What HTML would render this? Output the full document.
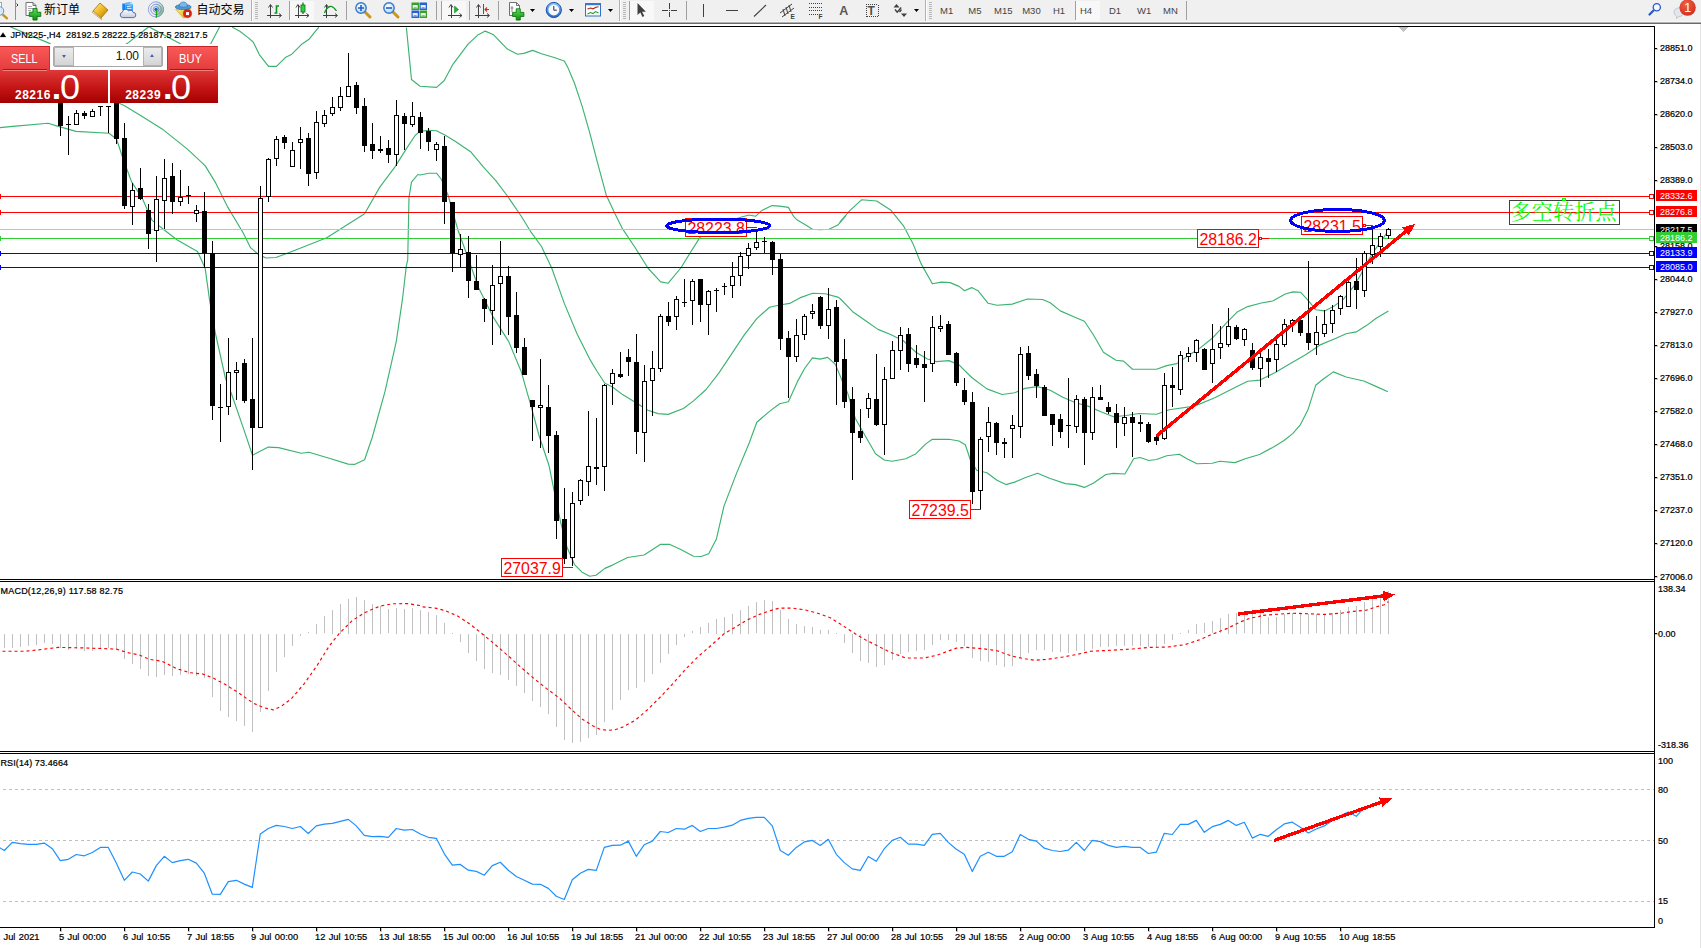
<!DOCTYPE html>
<html><head><meta charset="utf-8"><title>JPN225-,H4</title>
<style>
html,body{margin:0;padding:0;background:#fff;}
body{width:1701px;height:948px;overflow:hidden;position:relative;font-family:"Liberation Sans","Noto Sans CJK SC",sans-serif;}
#chart{position:absolute;left:0;top:0;}
#chart text{font-family:"Liberation Sans","Noto Sans CJK SC",sans-serif;}
#tb{position:absolute;left:0;top:0;width:1701px;height:22px;background:#f0f0f0;}
#tbline{position:absolute;left:0;top:21px;width:1701px;height:3px;background:linear-gradient(#f8f8f8 0,#f8f8f8 33.3%,#b0b0b0 33.4%,#b0b0b0 66.6%,#6c6c6c 66.7%);}
#redge{position:absolute;left:1700px;top:24px;width:1px;height:924px;background:#e3e3e3;}
</style></head><body>
<svg id="chart" width="1701" height="948" viewBox="0 0 1701 948">
<defs><clipPath id="cm"><rect x="0" y="27" width="1654" height="552"/></clipPath></defs>
<g shape-rendering="crispEdges" fill="#000">
<rect x="0" y="26" width="1655" height="1"/>
<rect x="1654" y="26" width="1" height="902"/>
<rect x="0" y="579" width="1655" height="1"/>
<rect x="0" y="581" width="1655" height="1"/>
<rect x="0" y="751" width="1655" height="1"/>
<rect x="0" y="753" width="1655" height="1"/>
<rect x="0" y="927" width="1655" height="1"/>
</g>
<g clip-path="url(#cm)">
<polyline points="10.1,26.7 50.0,43.6 70.3,59.2 100.1,59.2 127.1,43.6 148.7,26.7" fill="none" stroke-linejoin="round" stroke="#3cb371" stroke-width="1.15"/>
<polyline points="148.7,26.7 179.8,43.6 196.1,53.7 210.9,43.6 219.7,26.7" fill="none" stroke-linejoin="round" stroke="#3cb371" stroke-width="1.15"/>
<polyline points="232.1,27.1 239.8,31.3 247.8,37.4 253.2,42.0 259.3,54.6 268.5,66.4 276.5,66.4 285.3,57.6 291.8,54.2 302.1,43.9 309.0,39.3 315.1,31.6 318.9,27.1" fill="none" stroke-linejoin="round" stroke="#3cb371" stroke-width="1.15"/>
<polyline points="406.4,27.6 411.5,79.5 420.0,86.3 436.5,87.4 444.1,80.8 452.9,64.3 468.1,44.1 478.2,34.7 485.3,31.1 493.4,34.7 507.4,49.1 517.5,54.2 523.8,53.4 532.7,50.4 541.5,53.7 554.2,57.5 564.3,61.0 568.1,68.1 574.5,83.3 582.1,106.1 589.7,132.7 597.3,161.8 606.1,194.7 615.0,213.7 622.6,228.9 635.2,247.7 647.9,268.0 660.6,281.9 668.2,283.2 680.8,268.0 691.0,251.5 699.8,237.6 710.0,230.0 725.0,222.5 741.6,217.0 749.2,215.0 755.5,216.3 761.9,210.4 772.0,205.6 779.6,206.1 788.4,207.4 793.5,216.3 797.3,220.1 804.9,224.6 812.5,229.2 820.1,229.7 829.0,229.2 837.8,225.1 845.4,216.3 840.0,221.8 850.1,210.4 861.5,199.8 876.7,201.0 890.6,209.9 903.3,225.6 913.4,244.6 921.0,263.6 932.4,283.8 941.3,282.1 950.2,282.6 959.0,286.4 964.6,290.7 971.7,287.6 978.0,290.7 988.1,303.3 997.0,305.3 1012.2,304.1 1027.4,299.0 1042.6,299.5 1050.2,302.8 1060.3,310.9 1075.5,317.5 1084.4,321.3 1093.2,334.5 1103.4,352.2 1116.0,360.3 1123.6,361.1 1132.5,369.2 1156.5,369.2 1166.7,365.6 1176.8,363.6 1189.5,354.7 1199.6,348.4 1212.2,338.3 1227.4,321.8 1237.6,311.7 1247.7,306.6 1260.4,303.3 1260.0,303.3 1272.7,301.0 1285.3,294.0 1292.9,291.9 1300.5,292.2 1308.1,300.3 1315.7,309.7 1324.6,310.9 1333.4,306.6 1343.6,299.0 1353.7,286.4 1361.3,273.7 1366.4,263.6 1374.0,250.9 1381.5,240.8 1388.4,230.6" fill="none" stroke-linejoin="round" stroke="#3cb371" stroke-width="1.15"/>
<polyline points="76.0,83.3 124.1,105.6 141.8,116.2 162.1,128.9 187.4,149.1 205.1,165.6 215.2,182.1 227.9,207.4 243.1,232.7 250.7,247.9 258.3,254.2 265.9,258.0 276.0,257.5 291.2,251.7 326.7,237.8 364.6,213.7 379.8,187.1 395.0,166.9 407.7,146.6 415.3,135.2 420.0,131.4 428.9,130.2 436.5,130.7 445.3,135.2 455.5,141.5 470.6,151.7 483.3,166.9 496.0,180.8 507.4,196.0 521.3,216.3 531.4,232.7 541.5,246.5 551.7,268.0 564.3,303.4 577.0,333.8 589.7,359.1 597.3,371.8 604.9,383.2 612.5,387.0 622.6,394.6 635.2,402.2 647.9,410.3 658.0,413.6 668.2,414.4 683.4,408.5 693.5,400.9 706.1,389.5 718.8,373.1 731.5,354.1 744.1,335.1 756.8,318.6 769.5,307.2 779.6,305.0 789.7,303.4 799.8,297.9 812.5,293.3 825.2,293.8 837.8,297.1 840.0,298.5 852.7,311.7 865.3,320.5 878.0,329.4 890.6,334.5 903.3,340.8 916.0,352.2 927.4,359.0 936.2,361.6 948.9,360.6 959.0,364.9 971.7,377.5 986.9,388.9 1002.1,394.5 1014.7,392.7 1024.9,388.4 1037.5,386.6 1050.2,390.2 1062.8,397.3 1075.5,402.8 1088.2,406.1 1100.8,411.7 1113.5,416.8 1126.1,415.5 1138.8,413.5 1156.5,414.2 1169.2,409.7 1194.5,406.1 1214.8,397.8 1235.0,387.6 1247.7,381.3 1260.0,380.1 1275.2,372.5 1290.4,363.6 1305.6,354.7 1320.8,344.6 1336.0,338.3 1346.1,333.7 1356.2,331.9 1366.4,325.6 1376.5,318.0 1388.4,310.9" fill="none" stroke-linejoin="round" stroke="#3cb371" stroke-width="1.15"/>
<polyline points="0.0,127.6 12.7,126.4 48.1,123.3 58.2,126.4 76.0,131.4 108.9,133.2 116.5,139.0 124.1,161.8 131.7,182.1 141.8,197.3 151.9,220.1 164.6,230.2 177.3,240.0 197.5,251.4 205.1,267.9 209.7,300.8 215.2,332.4 225.4,378.0 231.7,394.5 243.1,427.4 252.5,455.2 268.4,447.1 278.6,447.6 301.3,453.2 308.9,452.2 329.2,458.3 348.2,464.1 354.5,464.4 364.6,459.8 372.2,437.5 384.9,391.9 396.3,341.3 402.6,298.2 406.4,265.3 407.7,260.1 409.0,197.3 411.5,182.1 417.8,174.5 420.0,175.0 428.9,173.2 436.5,173.2 441.5,179.5 447.9,194.7 452.9,212.5 458.0,230.2 468.1,257.9 478.2,287.0 493.4,317.4 508.6,341.4 521.3,371.8 531.4,407.3 539.0,435.5 549.1,465.8 554.2,491.2 560.5,521.5 566.9,546.9 574.5,564.6 582.1,572.2 589.7,576.2 596.0,575.2 604.9,568.4 612.5,565.1 627.6,557.5 644.1,555.0 660.6,544.3 669.4,544.3 680.8,549.4 693.5,556.2 701.1,556.5 708.7,553.7 716.3,539.3 723.9,506.4 736.5,473.4 749.2,443.0 756.8,422.3 769.5,411.4 779.6,403.8 788.4,401.8 797.3,381.9 804.9,368.0 812.5,357.9 820.1,359.1 827.7,357.4 835.3,364.2 841.6,379.4 847.6,392.9 855.2,418.2 865.3,436.0 875.5,453.7 884.3,460.0 891.9,461.3 905.8,458.8 916.0,453.7 926.1,443.6 932.4,439.3 948.9,439.3 959.0,441.0 965.3,444.8 970.4,460.0 976.7,470.2 986.9,472.7 997.0,480.3 1005.9,484.6 1014.7,482.1 1024.9,477.8 1037.5,473.2 1050.2,478.5 1065.4,483.6 1075.5,484.6 1084.4,487.4 1093.2,483.3 1105.9,474.5 1113.5,473.4 1124.9,474.0 1133.7,458.8 1140.1,457.5 1148.9,460.5 1156.5,459.5 1166.7,455.7 1179.3,454.2 1186.9,458.8 1197.1,463.8 1212.2,463.3 1219.8,461.3 1235.0,462.6 1245.2,458.8 1257.8,455.0 1260.0,454.2 1272.7,447.4 1284.1,440.5 1292.9,433.4 1300.5,424.6 1308.1,409.4 1315.7,385.3 1323.3,379.0 1333.4,371.9 1346.1,377.0 1363.8,381.0 1376.5,386.6 1387.9,391.7" fill="none" stroke-linejoin="round" stroke="#3cb371" stroke-width="1.15"/>
<g shape-rendering="crispEdges">
<rect x="0" y="196" width="1654" height="1" fill="#ff0000"/>
<rect x="0" y="194" width="1" height="5" fill="#ff0000"/>
<rect x="0" y="212" width="1654" height="1" fill="#ff0000"/>
<rect x="0" y="210" width="1" height="5" fill="#ff0000"/>
<rect x="0" y="229" width="1654" height="1" fill="#c0c0c0"/>
<rect x="0" y="238" width="1654" height="1" fill="#32cd32"/>
<rect x="0" y="236" width="1" height="5" fill="#32cd32"/>
<rect x="0" y="253" width="1654" height="1" fill="#0000ff"/>
<rect x="0" y="251" width="1" height="5" fill="#0000ff"/>
<rect x="0" y="267" width="1654" height="1" fill="#0000ff"/>
<rect x="0" y="265" width="1" height="5" fill="#0000ff"/>
<rect x="60" y="96" width="1" height="40" fill="#000"/>
<rect x="58" y="96" width="5" height="30" fill="#000"/>
<rect x="68" y="116" width="1" height="39" fill="#000"/>
<rect x="66" y="124" width="5" height="1" fill="#000"/>
<rect x="76" y="110" width="1" height="15" fill="#000"/>
<rect x="74" y="113" width="5" height="12" fill="#000"/>
<rect x="75" y="114" width="3" height="10" fill="#fff"/>
<rect x="84" y="111" width="1" height="8" fill="#000"/>
<rect x="82" y="113" width="5" height="3" fill="#000"/>
<rect x="92" y="109" width="1" height="8" fill="#000"/>
<rect x="90" y="111" width="5" height="6" fill="#000"/>
<rect x="91" y="112" width="3" height="4" fill="#fff"/>
<rect x="100" y="106" width="1" height="10" fill="#000"/>
<rect x="98" y="106" width="5" height="1" fill="#000"/>
<rect x="108" y="106" width="1" height="27" fill="#000"/>
<rect x="106" y="106" width="5" height="1" fill="#000"/>
<rect x="116" y="96" width="1" height="48" fill="#000"/>
<rect x="114" y="96" width="5" height="43" fill="#000"/>
<rect x="124" y="123" width="1" height="86" fill="#000"/>
<rect x="122" y="138" width="5" height="68" fill="#000"/>
<rect x="132" y="183" width="1" height="42" fill="#000"/>
<rect x="130" y="190" width="5" height="17" fill="#000"/>
<rect x="131" y="191" width="3" height="15" fill="#fff"/>
<rect x="140" y="168" width="1" height="32" fill="#000"/>
<rect x="138" y="188" width="5" height="11" fill="#000"/>
<rect x="148" y="204" width="1" height="45" fill="#000"/>
<rect x="146" y="210" width="5" height="24" fill="#000"/>
<rect x="156" y="176" width="1" height="86" fill="#000"/>
<rect x="154" y="199" width="5" height="32" fill="#000"/>
<rect x="155" y="200" width="3" height="30" fill="#fff"/>
<rect x="164" y="159" width="1" height="70" fill="#000"/>
<rect x="162" y="178" width="5" height="23" fill="#000"/>
<rect x="163" y="179" width="3" height="21" fill="#fff"/>
<rect x="172" y="163" width="1" height="51" fill="#000"/>
<rect x="170" y="176" width="5" height="26" fill="#000"/>
<rect x="180" y="170" width="1" height="36" fill="#000"/>
<rect x="178" y="197" width="5" height="5" fill="#000"/>
<rect x="179" y="198" width="3" height="3" fill="#fff"/>
<rect x="188" y="186" width="1" height="18" fill="#000"/>
<rect x="186" y="195" width="5" height="1" fill="#000"/>
<rect x="196" y="205" width="1" height="17" fill="#000"/>
<rect x="194" y="210" width="5" height="4" fill="#000"/>
<rect x="195" y="211" width="3" height="2" fill="#fff"/>
<rect x="204" y="192" width="1" height="76" fill="#000"/>
<rect x="202" y="211" width="5" height="42" fill="#000"/>
<rect x="212" y="241" width="1" height="179" fill="#000"/>
<rect x="210" y="253" width="5" height="153" fill="#000"/>
<rect x="220" y="384" width="1" height="58" fill="#000"/>
<rect x="218" y="407" width="5" height="1" fill="#000"/>
<rect x="228" y="338" width="1" height="77" fill="#000"/>
<rect x="226" y="372" width="5" height="35" fill="#000"/>
<rect x="227" y="373" width="3" height="33" fill="#fff"/>
<rect x="236" y="362" width="1" height="38" fill="#000"/>
<rect x="234" y="370" width="5" height="3" fill="#000"/>
<rect x="235" y="371" width="3" height="1" fill="#fff"/>
<rect x="244" y="359" width="1" height="44" fill="#000"/>
<rect x="242" y="363" width="5" height="38" fill="#000"/>
<rect x="252" y="338" width="1" height="132" fill="#000"/>
<rect x="250" y="399" width="5" height="29" fill="#000"/>
<rect x="260" y="186" width="1" height="242" fill="#000"/>
<rect x="258" y="198" width="5" height="230" fill="#000"/>
<rect x="259" y="199" width="3" height="228" fill="#fff"/>
<rect x="268" y="158" width="1" height="44" fill="#000"/>
<rect x="266" y="159" width="5" height="38" fill="#000"/>
<rect x="267" y="160" width="3" height="36" fill="#fff"/>
<rect x="276" y="136" width="1" height="30" fill="#000"/>
<rect x="274" y="139" width="5" height="20" fill="#000"/>
<rect x="275" y="140" width="3" height="18" fill="#fff"/>
<rect x="284" y="135" width="1" height="14" fill="#000"/>
<rect x="282" y="137" width="5" height="6" fill="#000"/>
<rect x="292" y="142" width="1" height="25" fill="#000"/>
<rect x="290" y="150" width="5" height="17" fill="#000"/>
<rect x="291" y="151" width="3" height="15" fill="#fff"/>
<rect x="300" y="127" width="1" height="42" fill="#000"/>
<rect x="298" y="139" width="5" height="4" fill="#000"/>
<rect x="299" y="140" width="3" height="2" fill="#fff"/>
<rect x="308" y="133" width="1" height="53" fill="#000"/>
<rect x="306" y="138" width="5" height="36" fill="#000"/>
<rect x="316" y="111" width="1" height="68" fill="#000"/>
<rect x="314" y="122" width="5" height="51" fill="#000"/>
<rect x="315" y="123" width="3" height="49" fill="#fff"/>
<rect x="324" y="110" width="1" height="17" fill="#000"/>
<rect x="322" y="115" width="5" height="9" fill="#000"/>
<rect x="323" y="116" width="3" height="7" fill="#fff"/>
<rect x="332" y="97" width="1" height="19" fill="#000"/>
<rect x="330" y="107" width="5" height="7" fill="#000"/>
<rect x="331" y="108" width="3" height="5" fill="#fff"/>
<rect x="340" y="87" width="1" height="24" fill="#000"/>
<rect x="338" y="96" width="5" height="12" fill="#000"/>
<rect x="339" y="97" width="3" height="10" fill="#fff"/>
<rect x="348" y="53" width="1" height="44" fill="#000"/>
<rect x="346" y="86" width="5" height="11" fill="#000"/>
<rect x="347" y="87" width="3" height="9" fill="#fff"/>
<rect x="356" y="82" width="1" height="32" fill="#000"/>
<rect x="354" y="85" width="5" height="23" fill="#000"/>
<rect x="364" y="98" width="1" height="54" fill="#000"/>
<rect x="362" y="106" width="5" height="40" fill="#000"/>
<rect x="372" y="123" width="1" height="36" fill="#000"/>
<rect x="370" y="144" width="5" height="7" fill="#000"/>
<rect x="380" y="136" width="1" height="17" fill="#000"/>
<rect x="378" y="149" width="5" height="2" fill="#000"/>
<rect x="388" y="140" width="1" height="23" fill="#000"/>
<rect x="386" y="148" width="5" height="7" fill="#000"/>
<rect x="396" y="100" width="1" height="66" fill="#000"/>
<rect x="394" y="115" width="5" height="40" fill="#000"/>
<rect x="395" y="116" width="3" height="38" fill="#fff"/>
<rect x="404" y="113" width="1" height="37" fill="#000"/>
<rect x="402" y="116" width="5" height="8" fill="#000"/>
<rect x="412" y="102" width="1" height="25" fill="#000"/>
<rect x="410" y="116" width="5" height="9" fill="#000"/>
<rect x="411" y="117" width="3" height="7" fill="#fff"/>
<rect x="420" y="112" width="1" height="37" fill="#000"/>
<rect x="418" y="117" width="5" height="16" fill="#000"/>
<rect x="428" y="128" width="1" height="23" fill="#000"/>
<rect x="426" y="131" width="5" height="11" fill="#000"/>
<rect x="436" y="142" width="1" height="19" fill="#000"/>
<rect x="434" y="144" width="5" height="6" fill="#000"/>
<rect x="435" y="145" width="3" height="4" fill="#fff"/>
<rect x="444" y="136" width="1" height="88" fill="#000"/>
<rect x="442" y="146" width="5" height="56" fill="#000"/>
<rect x="452" y="202" width="1" height="70" fill="#000"/>
<rect x="450" y="202" width="5" height="51" fill="#000"/>
<rect x="460" y="234" width="1" height="33" fill="#000"/>
<rect x="458" y="249" width="5" height="6" fill="#000"/>
<rect x="459" y="250" width="3" height="4" fill="#fff"/>
<rect x="468" y="236" width="1" height="62" fill="#000"/>
<rect x="466" y="252" width="5" height="29" fill="#000"/>
<rect x="476" y="255" width="1" height="35" fill="#000"/>
<rect x="474" y="281" width="5" height="9" fill="#000"/>
<rect x="484" y="298" width="1" height="24" fill="#000"/>
<rect x="482" y="299" width="5" height="10" fill="#000"/>
<rect x="492" y="265" width="1" height="80" fill="#000"/>
<rect x="490" y="285" width="5" height="26" fill="#000"/>
<rect x="491" y="286" width="3" height="24" fill="#fff"/>
<rect x="500" y="241" width="1" height="94" fill="#000"/>
<rect x="498" y="276" width="5" height="8" fill="#000"/>
<rect x="499" y="277" width="3" height="6" fill="#fff"/>
<rect x="508" y="266" width="1" height="69" fill="#000"/>
<rect x="506" y="276" width="5" height="41" fill="#000"/>
<rect x="516" y="292" width="1" height="61" fill="#000"/>
<rect x="514" y="315" width="5" height="33" fill="#000"/>
<rect x="524" y="338" width="1" height="37" fill="#000"/>
<rect x="522" y="347" width="5" height="28" fill="#000"/>
<rect x="532" y="400" width="1" height="41" fill="#000"/>
<rect x="530" y="400" width="5" height="7" fill="#000"/>
<rect x="540" y="359" width="1" height="89" fill="#000"/>
<rect x="538" y="405" width="5" height="3" fill="#000"/>
<rect x="539" y="406" width="3" height="1" fill="#fff"/>
<rect x="548" y="385" width="1" height="68" fill="#000"/>
<rect x="546" y="407" width="5" height="29" fill="#000"/>
<rect x="556" y="431" width="1" height="108" fill="#000"/>
<rect x="554" y="435" width="5" height="86" fill="#000"/>
<rect x="564" y="488" width="1" height="76" fill="#000"/>
<rect x="562" y="519" width="5" height="40" fill="#000"/>
<rect x="572" y="492" width="1" height="74" fill="#000"/>
<rect x="570" y="503" width="5" height="55" fill="#000"/>
<rect x="571" y="504" width="3" height="53" fill="#fff"/>
<rect x="580" y="479" width="1" height="26" fill="#000"/>
<rect x="578" y="480" width="5" height="21" fill="#000"/>
<rect x="579" y="481" width="3" height="19" fill="#fff"/>
<rect x="588" y="411" width="1" height="85" fill="#000"/>
<rect x="586" y="466" width="5" height="16" fill="#000"/>
<rect x="587" y="467" width="3" height="14" fill="#fff"/>
<rect x="596" y="418" width="1" height="67" fill="#000"/>
<rect x="594" y="467" width="5" height="2" fill="#000"/>
<rect x="604" y="384" width="1" height="107" fill="#000"/>
<rect x="602" y="385" width="5" height="82" fill="#000"/>
<rect x="603" y="386" width="3" height="80" fill="#fff"/>
<rect x="612" y="369" width="1" height="36" fill="#000"/>
<rect x="610" y="373" width="5" height="11" fill="#000"/>
<rect x="611" y="374" width="3" height="9" fill="#fff"/>
<rect x="620" y="352" width="1" height="26" fill="#000"/>
<rect x="618" y="374" width="5" height="3" fill="#000"/>
<rect x="628" y="349" width="1" height="27" fill="#000"/>
<rect x="626" y="357" width="5" height="5" fill="#000"/>
<rect x="636" y="334" width="1" height="120" fill="#000"/>
<rect x="634" y="362" width="5" height="70" fill="#000"/>
<rect x="644" y="365" width="1" height="97" fill="#000"/>
<rect x="642" y="381" width="5" height="52" fill="#000"/>
<rect x="643" y="382" width="3" height="50" fill="#fff"/>
<rect x="652" y="351" width="1" height="65" fill="#000"/>
<rect x="650" y="368" width="5" height="13" fill="#000"/>
<rect x="651" y="369" width="3" height="11" fill="#fff"/>
<rect x="660" y="314" width="1" height="58" fill="#000"/>
<rect x="658" y="316" width="5" height="53" fill="#000"/>
<rect x="659" y="317" width="3" height="51" fill="#fff"/>
<rect x="668" y="302" width="1" height="24" fill="#000"/>
<rect x="666" y="316" width="5" height="6" fill="#000"/>
<rect x="676" y="296" width="1" height="34" fill="#000"/>
<rect x="674" y="299" width="5" height="18" fill="#000"/>
<rect x="675" y="300" width="3" height="16" fill="#fff"/>
<rect x="684" y="279" width="1" height="28" fill="#000"/>
<rect x="682" y="302" width="5" height="1" fill="#000"/>
<rect x="692" y="279" width="1" height="46" fill="#000"/>
<rect x="690" y="281" width="5" height="20" fill="#000"/>
<rect x="691" y="282" width="3" height="18" fill="#fff"/>
<rect x="700" y="279" width="1" height="43" fill="#000"/>
<rect x="698" y="279" width="5" height="26" fill="#000"/>
<rect x="708" y="290" width="1" height="45" fill="#000"/>
<rect x="706" y="291" width="5" height="14" fill="#000"/>
<rect x="707" y="292" width="3" height="12" fill="#fff"/>
<rect x="716" y="288" width="1" height="24" fill="#000"/>
<rect x="714" y="290" width="5" height="1" fill="#000"/>
<rect x="724" y="283" width="1" height="12" fill="#000"/>
<rect x="722" y="286" width="5" height="1" fill="#000"/>
<rect x="732" y="262" width="1" height="36" fill="#000"/>
<rect x="730" y="276" width="5" height="10" fill="#000"/>
<rect x="731" y="277" width="3" height="8" fill="#fff"/>
<rect x="740" y="252" width="1" height="34" fill="#000"/>
<rect x="738" y="256" width="5" height="20" fill="#000"/>
<rect x="739" y="257" width="3" height="18" fill="#fff"/>
<rect x="748" y="243" width="1" height="26" fill="#000"/>
<rect x="746" y="248" width="5" height="8" fill="#000"/>
<rect x="747" y="249" width="3" height="6" fill="#fff"/>
<rect x="756" y="231" width="1" height="19" fill="#000"/>
<rect x="754" y="242" width="5" height="6" fill="#000"/>
<rect x="755" y="243" width="3" height="4" fill="#fff"/>
<rect x="764" y="237" width="1" height="16" fill="#000"/>
<rect x="762" y="241" width="5" height="1" fill="#000"/>
<rect x="772" y="241" width="1" height="34" fill="#000"/>
<rect x="770" y="242" width="5" height="18" fill="#000"/>
<rect x="780" y="254" width="1" height="96" fill="#000"/>
<rect x="778" y="259" width="5" height="80" fill="#000"/>
<rect x="788" y="331" width="1" height="67" fill="#000"/>
<rect x="786" y="338" width="5" height="19" fill="#000"/>
<rect x="796" y="319" width="1" height="43" fill="#000"/>
<rect x="794" y="335" width="5" height="22" fill="#000"/>
<rect x="795" y="336" width="3" height="20" fill="#fff"/>
<rect x="804" y="314" width="1" height="26" fill="#000"/>
<rect x="802" y="316" width="5" height="19" fill="#000"/>
<rect x="803" y="317" width="3" height="17" fill="#fff"/>
<rect x="812" y="304" width="1" height="15" fill="#000"/>
<rect x="810" y="311" width="5" height="3" fill="#000"/>
<rect x="811" y="312" width="3" height="1" fill="#fff"/>
<rect x="820" y="296" width="1" height="33" fill="#000"/>
<rect x="818" y="297" width="5" height="29" fill="#000"/>
<rect x="828" y="288" width="1" height="51" fill="#000"/>
<rect x="826" y="309" width="5" height="17" fill="#000"/>
<rect x="827" y="310" width="3" height="15" fill="#fff"/>
<rect x="836" y="300" width="1" height="105" fill="#000"/>
<rect x="834" y="307" width="5" height="55" fill="#000"/>
<rect x="844" y="339" width="1" height="69" fill="#000"/>
<rect x="842" y="359" width="5" height="43" fill="#000"/>
<rect x="852" y="387" width="1" height="93" fill="#000"/>
<rect x="850" y="399" width="5" height="34" fill="#000"/>
<rect x="860" y="409" width="1" height="34" fill="#000"/>
<rect x="858" y="431" width="5" height="7" fill="#000"/>
<rect x="868" y="393" width="1" height="25" fill="#000"/>
<rect x="866" y="398" width="5" height="11" fill="#000"/>
<rect x="867" y="399" width="3" height="9" fill="#fff"/>
<rect x="876" y="354" width="1" height="72" fill="#000"/>
<rect x="874" y="399" width="5" height="26" fill="#000"/>
<rect x="884" y="367" width="1" height="88" fill="#000"/>
<rect x="882" y="379" width="5" height="46" fill="#000"/>
<rect x="883" y="380" width="3" height="44" fill="#fff"/>
<rect x="892" y="341" width="1" height="38" fill="#000"/>
<rect x="890" y="350" width="5" height="29" fill="#000"/>
<rect x="891" y="351" width="3" height="27" fill="#fff"/>
<rect x="900" y="327" width="1" height="43" fill="#000"/>
<rect x="898" y="335" width="5" height="16" fill="#000"/>
<rect x="899" y="336" width="3" height="14" fill="#fff"/>
<rect x="908" y="328" width="1" height="44" fill="#000"/>
<rect x="906" y="334" width="5" height="30" fill="#000"/>
<rect x="916" y="345" width="1" height="23" fill="#000"/>
<rect x="914" y="358" width="5" height="7" fill="#000"/>
<rect x="924" y="351" width="1" height="51" fill="#000"/>
<rect x="922" y="364" width="5" height="4" fill="#000"/>
<rect x="932" y="316" width="1" height="56" fill="#000"/>
<rect x="930" y="327" width="5" height="37" fill="#000"/>
<rect x="931" y="328" width="3" height="35" fill="#fff"/>
<rect x="940" y="315" width="1" height="17" fill="#000"/>
<rect x="938" y="326" width="5" height="3" fill="#000"/>
<rect x="939" y="327" width="3" height="1" fill="#fff"/>
<rect x="948" y="321" width="1" height="34" fill="#000"/>
<rect x="946" y="324" width="5" height="31" fill="#000"/>
<rect x="956" y="352" width="1" height="34" fill="#000"/>
<rect x="954" y="353" width="5" height="30" fill="#000"/>
<rect x="964" y="378" width="1" height="27" fill="#000"/>
<rect x="962" y="390" width="5" height="12" fill="#000"/>
<rect x="972" y="392" width="1" height="112" fill="#000"/>
<rect x="970" y="402" width="5" height="90" fill="#000"/>
<rect x="980" y="437" width="1" height="72" fill="#000"/>
<rect x="978" y="439" width="5" height="52" fill="#000"/>
<rect x="979" y="440" width="3" height="50" fill="#fff"/>
<rect x="988" y="407" width="1" height="45" fill="#000"/>
<rect x="986" y="422" width="5" height="15" fill="#000"/>
<rect x="987" y="423" width="3" height="13" fill="#fff"/>
<rect x="996" y="422" width="1" height="33" fill="#000"/>
<rect x="994" y="423" width="5" height="20" fill="#000"/>
<rect x="1004" y="438" width="1" height="20" fill="#000"/>
<rect x="1002" y="442" width="5" height="2" fill="#000"/>
<rect x="1012" y="415" width="1" height="43" fill="#000"/>
<rect x="1010" y="425" width="5" height="4" fill="#000"/>
<rect x="1011" y="426" width="3" height="2" fill="#fff"/>
<rect x="1020" y="347" width="1" height="91" fill="#000"/>
<rect x="1018" y="354" width="5" height="73" fill="#000"/>
<rect x="1019" y="355" width="3" height="71" fill="#fff"/>
<rect x="1028" y="346" width="1" height="34" fill="#000"/>
<rect x="1026" y="353" width="5" height="23" fill="#000"/>
<rect x="1036" y="369" width="1" height="29" fill="#000"/>
<rect x="1034" y="374" width="5" height="12" fill="#000"/>
<rect x="1044" y="385" width="1" height="31" fill="#000"/>
<rect x="1042" y="387" width="5" height="29" fill="#000"/>
<rect x="1052" y="414" width="1" height="32" fill="#000"/>
<rect x="1050" y="414" width="5" height="11" fill="#000"/>
<rect x="1060" y="414" width="1" height="24" fill="#000"/>
<rect x="1058" y="419" width="5" height="13" fill="#000"/>
<rect x="1068" y="378" width="1" height="70" fill="#000"/>
<rect x="1066" y="425" width="5" height="1" fill="#000"/>
<rect x="1076" y="395" width="1" height="38" fill="#000"/>
<rect x="1074" y="399" width="5" height="28" fill="#000"/>
<rect x="1075" y="400" width="3" height="26" fill="#fff"/>
<rect x="1084" y="397" width="1" height="68" fill="#000"/>
<rect x="1082" y="399" width="5" height="34" fill="#000"/>
<rect x="1092" y="387" width="1" height="53" fill="#000"/>
<rect x="1090" y="397" width="5" height="36" fill="#000"/>
<rect x="1091" y="398" width="3" height="34" fill="#fff"/>
<rect x="1100" y="385" width="1" height="15" fill="#000"/>
<rect x="1098" y="397" width="5" height="3" fill="#000"/>
<rect x="1108" y="402" width="1" height="12" fill="#000"/>
<rect x="1106" y="407" width="5" height="5" fill="#000"/>
<rect x="1116" y="404" width="1" height="44" fill="#000"/>
<rect x="1114" y="413" width="5" height="10" fill="#000"/>
<rect x="1124" y="407" width="1" height="29" fill="#000"/>
<rect x="1122" y="417" width="5" height="7" fill="#000"/>
<rect x="1123" y="418" width="3" height="5" fill="#fff"/>
<rect x="1132" y="412" width="1" height="45" fill="#000"/>
<rect x="1130" y="417" width="5" height="6" fill="#000"/>
<rect x="1140" y="415" width="1" height="17" fill="#000"/>
<rect x="1138" y="422" width="5" height="2" fill="#000"/>
<rect x="1148" y="422" width="1" height="21" fill="#000"/>
<rect x="1146" y="424" width="5" height="18" fill="#000"/>
<rect x="1156" y="435" width="1" height="10" fill="#000"/>
<rect x="1154" y="437" width="5" height="4" fill="#000"/>
<rect x="1164" y="373" width="1" height="67" fill="#000"/>
<rect x="1162" y="385" width="5" height="54" fill="#000"/>
<rect x="1163" y="386" width="3" height="52" fill="#fff"/>
<rect x="1172" y="367" width="1" height="40" fill="#000"/>
<rect x="1170" y="385" width="5" height="3" fill="#000"/>
<rect x="1180" y="351" width="1" height="44" fill="#000"/>
<rect x="1178" y="355" width="5" height="35" fill="#000"/>
<rect x="1179" y="356" width="3" height="33" fill="#fff"/>
<rect x="1188" y="347" width="1" height="15" fill="#000"/>
<rect x="1186" y="353" width="5" height="4" fill="#000"/>
<rect x="1187" y="354" width="3" height="2" fill="#fff"/>
<rect x="1196" y="339" width="1" height="23" fill="#000"/>
<rect x="1194" y="340" width="5" height="13" fill="#000"/>
<rect x="1195" y="341" width="3" height="11" fill="#fff"/>
<rect x="1204" y="348" width="1" height="22" fill="#000"/>
<rect x="1202" y="349" width="5" height="21" fill="#000"/>
<rect x="1212" y="324" width="1" height="59" fill="#000"/>
<rect x="1210" y="349" width="5" height="15" fill="#000"/>
<rect x="1211" y="350" width="3" height="13" fill="#fff"/>
<rect x="1220" y="326" width="1" height="33" fill="#000"/>
<rect x="1218" y="343" width="5" height="5" fill="#000"/>
<rect x="1219" y="344" width="3" height="3" fill="#fff"/>
<rect x="1228" y="308" width="1" height="39" fill="#000"/>
<rect x="1226" y="326" width="5" height="19" fill="#000"/>
<rect x="1227" y="327" width="3" height="17" fill="#fff"/>
<rect x="1236" y="325" width="1" height="15" fill="#000"/>
<rect x="1234" y="327" width="5" height="12" fill="#000"/>
<rect x="1244" y="328" width="1" height="18" fill="#000"/>
<rect x="1242" y="329" width="5" height="11" fill="#000"/>
<rect x="1243" y="330" width="3" height="9" fill="#fff"/>
<rect x="1252" y="343" width="1" height="27" fill="#000"/>
<rect x="1250" y="350" width="5" height="18" fill="#000"/>
<rect x="1260" y="353" width="1" height="34" fill="#000"/>
<rect x="1258" y="357" width="5" height="12" fill="#000"/>
<rect x="1259" y="358" width="3" height="10" fill="#fff"/>
<rect x="1268" y="349" width="1" height="29" fill="#000"/>
<rect x="1266" y="358" width="5" height="4" fill="#000"/>
<rect x="1276" y="340" width="1" height="32" fill="#000"/>
<rect x="1274" y="344" width="5" height="16" fill="#000"/>
<rect x="1275" y="345" width="3" height="14" fill="#fff"/>
<rect x="1284" y="319" width="1" height="28" fill="#000"/>
<rect x="1282" y="324" width="5" height="21" fill="#000"/>
<rect x="1283" y="325" width="3" height="19" fill="#fff"/>
<rect x="1292" y="319" width="1" height="13" fill="#000"/>
<rect x="1290" y="320" width="5" height="4" fill="#000"/>
<rect x="1291" y="321" width="3" height="2" fill="#fff"/>
<rect x="1300" y="319" width="1" height="17" fill="#000"/>
<rect x="1298" y="320" width="5" height="13" fill="#000"/>
<rect x="1308" y="261" width="1" height="89" fill="#000"/>
<rect x="1306" y="333" width="5" height="10" fill="#000"/>
<rect x="1316" y="316" width="1" height="39" fill="#000"/>
<rect x="1314" y="332" width="5" height="13" fill="#000"/>
<rect x="1315" y="333" width="3" height="11" fill="#fff"/>
<rect x="1324" y="310" width="1" height="27" fill="#000"/>
<rect x="1322" y="324" width="5" height="10" fill="#000"/>
<rect x="1323" y="325" width="3" height="8" fill="#fff"/>
<rect x="1332" y="305" width="1" height="28" fill="#000"/>
<rect x="1330" y="310" width="5" height="14" fill="#000"/>
<rect x="1331" y="311" width="3" height="12" fill="#fff"/>
<rect x="1340" y="295" width="1" height="20" fill="#000"/>
<rect x="1338" y="296" width="5" height="13" fill="#000"/>
<rect x="1339" y="297" width="3" height="11" fill="#fff"/>
<rect x="1348" y="280" width="1" height="27" fill="#000"/>
<rect x="1346" y="282" width="5" height="25" fill="#000"/>
<rect x="1347" y="283" width="3" height="23" fill="#fff"/>
<rect x="1356" y="258" width="1" height="51" fill="#000"/>
<rect x="1354" y="281" width="5" height="9" fill="#000"/>
<rect x="1364" y="251" width="1" height="46" fill="#000"/>
<rect x="1362" y="253" width="5" height="38" fill="#000"/>
<rect x="1363" y="254" width="3" height="36" fill="#fff"/>
<rect x="1372" y="229" width="1" height="35" fill="#000"/>
<rect x="1370" y="245" width="5" height="10" fill="#000"/>
<rect x="1371" y="246" width="3" height="8" fill="#fff"/>
<rect x="1380" y="233" width="1" height="24" fill="#000"/>
<rect x="1378" y="236" width="5" height="11" fill="#000"/>
<rect x="1379" y="237" width="3" height="9" fill="#fff"/>
<rect x="1388" y="228" width="1" height="11" fill="#000"/>
<rect x="1386" y="229" width="5" height="7" fill="#000"/>
<rect x="1387" y="230" width="3" height="5" fill="#fff"/>
</g>
</g>
<g shape-rendering="crispEdges" fill="#c0c0c0">
<rect x="4" y="634" width="1" height="14"/>
<rect x="12" y="634" width="1" height="14"/>
<rect x="20" y="634" width="1" height="13"/>
<rect x="28" y="634" width="1" height="12"/>
<rect x="36" y="634" width="1" height="11"/>
<rect x="44" y="634" width="1" height="9"/>
<rect x="52" y="634" width="1" height="10"/>
<rect x="60" y="634" width="1" height="14"/>
<rect x="68" y="634" width="1" height="16"/>
<rect x="76" y="634" width="1" height="15"/>
<rect x="84" y="634" width="1" height="17"/>
<rect x="92" y="634" width="1" height="17"/>
<rect x="100" y="634" width="1" height="15"/>
<rect x="108" y="634" width="1" height="14"/>
<rect x="116" y="634" width="1" height="16"/>
<rect x="124" y="634" width="1" height="25"/>
<rect x="132" y="634" width="1" height="30"/>
<rect x="140" y="634" width="1" height="35"/>
<rect x="148" y="634" width="1" height="42"/>
<rect x="156" y="634" width="1" height="43"/>
<rect x="164" y="634" width="1" height="41"/>
<rect x="172" y="634" width="1" height="42"/>
<rect x="180" y="634" width="1" height="41"/>
<rect x="188" y="634" width="1" height="40"/>
<rect x="196" y="634" width="1" height="42"/>
<rect x="204" y="634" width="1" height="44"/>
<rect x="212" y="634" width="1" height="63"/>
<rect x="220" y="634" width="1" height="77"/>
<rect x="228" y="634" width="1" height="83"/>
<rect x="236" y="634" width="1" height="87"/>
<rect x="244" y="634" width="1" height="92"/>
<rect x="252" y="634" width="1" height="98"/>
<rect x="260" y="634" width="1" height="78"/>
<rect x="268" y="634" width="1" height="57"/>
<rect x="276" y="634" width="1" height="38"/>
<rect x="284" y="634" width="1" height="23"/>
<rect x="292" y="634" width="1" height="12"/>
<rect x="300" y="634" width="1" height="2"/>
<rect x="308" y="632" width="1" height="1"/>
<rect x="316" y="624" width="1" height="10"/>
<rect x="324" y="616" width="1" height="17"/>
<rect x="332" y="610" width="1" height="24"/>
<rect x="340" y="604" width="1" height="30"/>
<rect x="348" y="599" width="1" height="35"/>
<rect x="356" y="597" width="1" height="37"/>
<rect x="364" y="600" width="1" height="34"/>
<rect x="372" y="604" width="1" height="30"/>
<rect x="380" y="606" width="1" height="28"/>
<rect x="388" y="609" width="1" height="24"/>
<rect x="396" y="608" width="1" height="26"/>
<rect x="404" y="609" width="1" height="25"/>
<rect x="412" y="608" width="1" height="26"/>
<rect x="420" y="610" width="1" height="24"/>
<rect x="428" y="612" width="1" height="22"/>
<rect x="436" y="615" width="1" height="19"/>
<rect x="444" y="623" width="1" height="11"/>
<rect x="452" y="633" width="1" height="1"/>
<rect x="460" y="634" width="1" height="8"/>
<rect x="468" y="634" width="1" height="19"/>
<rect x="476" y="634" width="1" height="27"/>
<rect x="484" y="634" width="1" height="35"/>
<rect x="492" y="634" width="1" height="39"/>
<rect x="500" y="634" width="1" height="41"/>
<rect x="508" y="634" width="1" height="46"/>
<rect x="516" y="634" width="1" height="52"/>
<rect x="524" y="634" width="1" height="59"/>
<rect x="532" y="634" width="1" height="67"/>
<rect x="540" y="634" width="1" height="73"/>
<rect x="548" y="634" width="1" height="80"/>
<rect x="556" y="634" width="1" height="93"/>
<rect x="564" y="634" width="1" height="106"/>
<rect x="572" y="634" width="1" height="109"/>
<rect x="580" y="634" width="1" height="108"/>
<rect x="588" y="634" width="1" height="104"/>
<rect x="596" y="634" width="1" height="101"/>
<rect x="604" y="634" width="1" height="88"/>
<rect x="612" y="634" width="1" height="76"/>
<rect x="620" y="634" width="1" height="66"/>
<rect x="628" y="634" width="1" height="56"/>
<rect x="636" y="634" width="1" height="54"/>
<rect x="644" y="634" width="1" height="48"/>
<rect x="652" y="634" width="1" height="40"/>
<rect x="660" y="634" width="1" height="29"/>
<rect x="668" y="634" width="1" height="20"/>
<rect x="676" y="634" width="1" height="11"/>
<rect x="684" y="634" width="1" height="3"/>
<rect x="692" y="631" width="1" height="2"/>
<rect x="700" y="627" width="1" height="7"/>
<rect x="708" y="623" width="1" height="10"/>
<rect x="716" y="619" width="1" height="15"/>
<rect x="724" y="617" width="1" height="17"/>
<rect x="732" y="614" width="1" height="20"/>
<rect x="740" y="610" width="1" height="24"/>
<rect x="748" y="606" width="1" height="28"/>
<rect x="756" y="602" width="1" height="31"/>
<rect x="764" y="600" width="1" height="34"/>
<rect x="772" y="601" width="1" height="33"/>
<rect x="780" y="610" width="1" height="24"/>
<rect x="788" y="619" width="1" height="15"/>
<rect x="796" y="624" width="1" height="10"/>
<rect x="804" y="626" width="1" height="7"/>
<rect x="812" y="627" width="1" height="7"/>
<rect x="820" y="630" width="1" height="4"/>
<rect x="828" y="630" width="1" height="4"/>
<rect x="836" y="633" width="1" height="1"/>
<rect x="844" y="634" width="1" height="9"/>
<rect x="852" y="634" width="1" height="19"/>
<rect x="860" y="634" width="1" height="27"/>
<rect x="868" y="634" width="1" height="29"/>
<rect x="876" y="634" width="1" height="33"/>
<rect x="884" y="634" width="1" height="31"/>
<rect x="892" y="634" width="1" height="26"/>
<rect x="900" y="634" width="1" height="20"/>
<rect x="908" y="634" width="1" height="18"/>
<rect x="916" y="634" width="1" height="17"/>
<rect x="924" y="634" width="1" height="16"/>
<rect x="932" y="634" width="1" height="11"/>
<rect x="940" y="634" width="1" height="6"/>
<rect x="948" y="634" width="1" height="6"/>
<rect x="956" y="634" width="1" height="8"/>
<rect x="964" y="634" width="1" height="12"/>
<rect x="972" y="634" width="1" height="24"/>
<rect x="980" y="634" width="1" height="27"/>
<rect x="988" y="634" width="1" height="28"/>
<rect x="996" y="634" width="1" height="31"/>
<rect x="1004" y="634" width="1" height="33"/>
<rect x="1012" y="634" width="1" height="32"/>
<rect x="1020" y="634" width="1" height="24"/>
<rect x="1028" y="634" width="1" height="19"/>
<rect x="1036" y="634" width="1" height="16"/>
<rect x="1044" y="634" width="1" height="16"/>
<rect x="1052" y="634" width="1" height="18"/>
<rect x="1060" y="634" width="1" height="18"/>
<rect x="1068" y="634" width="1" height="19"/>
<rect x="1076" y="634" width="1" height="17"/>
<rect x="1084" y="634" width="1" height="17"/>
<rect x="1092" y="634" width="1" height="15"/>
<rect x="1100" y="634" width="1" height="13"/>
<rect x="1108" y="634" width="1" height="13"/>
<rect x="1116" y="634" width="1" height="12"/>
<rect x="1124" y="634" width="1" height="12"/>
<rect x="1132" y="634" width="1" height="12"/>
<rect x="1140" y="634" width="1" height="12"/>
<rect x="1148" y="634" width="1" height="13"/>
<rect x="1156" y="634" width="1" height="14"/>
<rect x="1164" y="634" width="1" height="10"/>
<rect x="1172" y="634" width="1" height="6"/>
<rect x="1180" y="633" width="1" height="1"/>
<rect x="1188" y="630" width="1" height="3"/>
<rect x="1196" y="624" width="1" height="10"/>
<rect x="1204" y="623" width="1" height="10"/>
<rect x="1212" y="621" width="1" height="12"/>
<rect x="1220" y="618" width="1" height="15"/>
<rect x="1228" y="614" width="1" height="20"/>
<rect x="1236" y="613" width="1" height="21"/>
<rect x="1244" y="614" width="1" height="19"/>
<rect x="1252" y="614" width="1" height="20"/>
<rect x="1260" y="613" width="1" height="21"/>
<rect x="1268" y="617" width="1" height="17"/>
<rect x="1276" y="617" width="1" height="17"/>
<rect x="1284" y="614" width="1" height="19"/>
<rect x="1292" y="613" width="1" height="21"/>
<rect x="1300" y="613" width="1" height="21"/>
<rect x="1308" y="614" width="1" height="20"/>
<rect x="1316" y="614" width="1" height="19"/>
<rect x="1324" y="614" width="1" height="20"/>
<rect x="1332" y="613" width="1" height="21"/>
<rect x="1340" y="610" width="1" height="24"/>
<rect x="1348" y="607" width="1" height="27"/>
<rect x="1356" y="606" width="1" height="28"/>
<rect x="1364" y="602" width="1" height="31"/>
<rect x="1372" y="599" width="1" height="34"/>
<rect x="1380" y="594" width="1" height="40"/>
<rect x="1388" y="591" width="1" height="43"/>
</g>
<polyline points="2.5,651.2 25.3,651.2 38.0,649.9 58.2,647.4 83.6,647.9 116.5,649.1 126.6,652.4 139.3,655.0 149.4,659.3 162.1,661.3 177.3,668.9 189.9,672.7 202.6,674.0 212.7,677.8 225.4,684.6 238.0,692.4 253.2,703.1 263.4,707.6 273.5,709.9 281.1,706.4 291.2,698.8 303.9,684.1 316.5,666.4 329.2,646.1 339.3,633.4 352.0,620.8 364.6,612.7 379.8,606.1 392.5,603.8 407.7,603.6 420.4,605.6 422.5,606.8 435.2,608.1 445.3,610.6 458.0,616.2 470.6,624.6 483.3,634.7 496.0,645.3 508.6,656.2 521.3,667.6 534.0,678.5 546.6,688.6 559.3,698.0 571.9,709.9 582.1,719.0 592.2,725.4 599.8,729.2 607.4,730.4 615.0,729.7 622.6,727.1 635.2,720.3 647.9,709.4 660.6,696.7 673.2,683.3 685.9,668.9 698.6,656.2 711.2,645.3 723.9,633.9 734.0,627.9 746.7,620.3 759.3,614.4 772.0,610.1 779.6,608.1 792.2,608.1 804.9,609.9 817.6,613.2 830.2,617.7 840.4,624.1 841.3,624.6 852.7,632.2 865.3,639.8 878.0,646.1 890.6,652.4 905.8,658.0 923.6,658.0 936.2,655.5 946.4,651.7 956.5,648.1 966.6,647.4 981.8,648.6 997.0,650.7 1012.2,656.2 1024.9,658.8 1035.0,660.3 1047.6,659.3 1062.8,657.0 1078.0,654.2 1090.7,651.2 1108.4,650.4 1131.2,649.1 1148.9,647.4 1166.7,647.1 1184.4,644.8 1199.6,639.8 1212.2,634.2 1227.4,628.4 1240.1,622.0 1250.2,618.2 1260.4,616.2 1260.0,615.7 1275.2,614.4 1292.9,613.2 1310.6,613.9 1325.8,614.4 1341.0,613.2 1353.7,611.4 1366.4,610.1 1376.5,606.8 1384.1,604.8 1388.4,601.8" fill="none" stroke-linejoin="round" stroke="#ff0000" stroke-width="1.15" stroke-dasharray="3,3"/>
<g shape-rendering="crispEdges" stroke="#c0c0c0" stroke-dasharray="3,3" stroke-width="1">
<line x1="3" y1="789.5" x2="1654" y2="789.5"/>
<line x1="3" y1="840.5" x2="1654" y2="840.5"/>
<line x1="3" y1="901.5" x2="1654" y2="901.5"/>
</g>
<polyline points="-3.7,845.7 4.3,850.5 12.3,842.4 20.3,843.6 28.3,844.4 36.3,844.4 44.3,843.1 52.3,848.7 60.3,860.6 68.3,859.3 76.3,854.5 84.3,855.8 92.3,852.5 100.3,847.4 108.3,847.4 116.3,863.1 124.3,880.3 132.3,872.0 140.3,874.0 148.3,881.1 156.3,865.6 164.3,856.3 172.3,862.6 180.3,860.6 188.3,859.3 196.3,863.1 204.3,873.2 212.3,894.2 220.3,894.4 228.3,881.6 236.3,880.3 244.3,884.1 252.3,887.4 260.3,834.0 268.3,828.5 276.3,825.4 284.3,826.5 292.3,828.5 300.3,826.5 308.3,833.5 316.3,825.9 324.3,824.2 332.3,823.4 340.3,821.4 348.3,819.4 356.3,825.9 364.3,835.3 372.3,836.6 380.3,836.3 388.3,837.3 396.3,828.5 404.3,830.2 412.3,829.5 420.3,834.0 428.3,837.3 436.3,838.3 444.3,853.8 452.3,865.1 460.3,864.4 468.3,870.2 476.3,871.4 484.3,875.2 492.3,865.6 500.3,862.3 508.3,870.2 516.3,876.5 524.3,880.3 532.3,884.1 540.3,884.3 548.3,888.4 556.3,896.2 564.3,899.5 572.3,879.8 580.3,873.2 588.3,869.4 596.3,870.4 604.3,847.4 612.3,845.4 620.3,845.2 628.3,841.1 636.3,856.3 644.3,844.7 652.3,841.1 660.3,831.5 668.3,832.5 676.3,828.5 684.3,829.2 692.3,825.4 700.3,831.5 708.3,828.5 716.3,828.5 724.3,827.2 732.3,825.2 740.3,820.4 748.3,818.4 756.3,817.4 764.3,817.4 772.3,825.9 780.3,850.5 788.3,855.3 796.3,847.4 804.3,841.9 812.3,840.4 820.3,845.4 828.3,839.3 836.3,854.3 844.3,862.6 852.3,868.9 860.3,870.4 868.3,856.5 876.3,861.3 884.3,848.7 892.3,840.4 900.3,837.3 908.3,844.1 916.3,844.1 924.3,845.4 932.3,834.3 940.3,833.3 948.3,842.4 956.3,849.2 964.3,854.3 972.3,871.4 980.3,856.3 988.3,852.2 996.3,856.3 1004.3,856.3 1012.3,851.7 1020.3,834.5 1028.3,839.3 1036.3,841.1 1044.3,848.2 1052.3,850.5 1060.3,851.5 1068.3,850.2 1076.3,842.4 1084.3,850.5 1092.3,840.4 1100.3,841.6 1108.3,845.4 1116.3,847.4 1124.3,846.4 1132.3,847.4 1140.3,847.4 1148.3,853.5 1156.3,852.2 1164.3,833.3 1172.3,834.5 1180.3,824.4 1188.3,824.4 1196.3,820.4 1204.3,832.3 1212.3,826.7 1220.3,824.4 1228.3,820.4 1236.3,825.4 1244.3,822.2 1252.3,838.1 1260.3,834.3 1268.3,836.3 1276.3,829.7 1284.3,823.9 1292.3,822.2 1300.3,827.2 1308.3,833.0 1316.3,829.0 1324.3,825.9 1332.3,820.4 1340.3,815.8 1348.3,812.0 1356.3,816.3 1364.3,807.7 1372.3,804.5 1380.3,801.9 1388.3,799.4" fill="none" stroke-linejoin="round" stroke="#1e90ff" stroke-width="1.2"/>
<line x1="1156.5" y1="436.0" x2="1406.5" y2="230.8" stroke="#ff0000" stroke-width="3.4" shape-rendering="crispEdges"/><polygon points="1415.0,223.8 1409.0,235.4 1402.4,227.4" fill="#ff0000" shape-rendering="crispEdges"/>
<line x1="1238.0" y1="614.0" x2="1384.1" y2="595.9" stroke="#ff0000" stroke-width="3.4" shape-rendering="crispEdges"/><polygon points="1395.0,594.6 1383.7,601.2 1382.5,590.9" fill="#ff0000" shape-rendering="crispEdges"/>
<line x1="1274.0" y1="840.5" x2="1381.6" y2="802.0" stroke="#ff0000" stroke-width="3.4" shape-rendering="crispEdges"/><polygon points="1392.0,798.3 1382.5,807.2 1378.9,797.4" fill="#ff0000" shape-rendering="crispEdges"/>
<g shape-rendering="crispEdges"><rect x="501.5" y="558.5" width="61" height="18" fill="#fff" stroke="#ff0000" stroke-width="1"/><rect x="563" y="567" width="10" height="1" fill="#ff0000"/></g><text x="503.4" y="574" font-size="16.6" fill="#ff0000" textLength="57.4" lengthAdjust="spacingAndGlyphs">27037.9</text>
<g shape-rendering="crispEdges"><rect x="909.5" y="500.5" width="61" height="18" fill="#fff" stroke="#ff0000" stroke-width="1"/><rect x="971" y="509" width="10" height="1" fill="#ff0000"/></g><text x="911.4" y="516" font-size="16.6" fill="#ff0000" textLength="57.4" lengthAdjust="spacingAndGlyphs">27239.5</text>
<g shape-rendering="crispEdges"><rect x="685.5" y="218.5" width="61" height="18" fill="#fff" stroke="#ff0000" stroke-width="1"/><rect x="747" y="227" width="10" height="1" fill="#ff0000"/></g><text x="687.4" y="234" font-size="16.6" fill="#ff0000" textLength="57.4" lengthAdjust="spacingAndGlyphs">28223.8</text>
<g shape-rendering="crispEdges"><rect x="1197.5" y="229.5" width="61" height="18" fill="#fff" stroke="#ff0000" stroke-width="1"/><rect x="1259" y="238" width="10" height="1" fill="#ff0000"/><rect x="1259.5" y="237.5" width="2" height="2" fill="#fff" stroke="#ff0000" stroke-width="1"/></g><text x="1199.4" y="245" font-size="16.6" fill="#ff0000" textLength="57.4" lengthAdjust="spacingAndGlyphs">28186.2</text>
<g shape-rendering="crispEdges"><rect x="1301.5" y="216.5" width="61" height="18" fill="#fff" stroke="#ff0000" stroke-width="1"/><rect x="1363" y="225" width="10" height="1" fill="#ff0000"/><rect x="1363.5" y="224.5" width="2" height="2" fill="#fff" stroke="#ff0000" stroke-width="1"/></g><text x="1303.4" y="232" font-size="16.6" fill="#ff0000" textLength="57.4" lengthAdjust="spacingAndGlyphs">28231.5</text>
<ellipse cx="718.2" cy="225.8" rx="51.6" ry="6.75" fill="none" stroke="#0000ff" stroke-width="3" shape-rendering="crispEdges"/>
<ellipse cx="1337.6" cy="220.45" rx="46.85" ry="11" fill="none" stroke="#0000ff" stroke-width="3" shape-rendering="crispEdges"/>
<rect x="1509.5" y="200.5" width="110" height="24" fill="none" stroke="#404040" stroke-width="1" shape-rendering="crispEdges"/>
<rect x="1562" y="198.5" width="3" height="2" fill="none" stroke="#00ff00" stroke-width="1" shape-rendering="crispEdges"/>
<text x="1510.5" y="219.3" font-size="21" fill="#00ff00" style="font-family:'Liberation Serif','Noto Serif CJK SC',serif;font-weight:400" textLength="106" lengthAdjust="spacing">多空转折点</text>
<g font-size="9" fill="#000" stroke="#000" stroke-width=".22">
<rect x="1655" y="48" width="2" height="1" shape-rendering="crispEdges"/>
<text x="1660" y="51.3">28851.0</text>
<rect x="1655" y="81" width="2" height="1" shape-rendering="crispEdges"/>
<text x="1660" y="84.3">28734.0</text>
<rect x="1655" y="114" width="2" height="1" shape-rendering="crispEdges"/>
<text x="1660" y="117.3">28620.0</text>
<rect x="1655" y="147" width="2" height="1" shape-rendering="crispEdges"/>
<text x="1660" y="150.3">28503.0</text>
<rect x="1655" y="180" width="2" height="1" shape-rendering="crispEdges"/>
<text x="1660" y="183.3">28389.0</text>
<rect x="1655" y="246" width="2" height="1" shape-rendering="crispEdges"/>
<text x="1660" y="249.4">28158.0</text>
<rect x="1655" y="279" width="2" height="1" shape-rendering="crispEdges"/>
<text x="1660" y="282.4">28044.0</text>
<rect x="1655" y="312" width="2" height="1" shape-rendering="crispEdges"/>
<text x="1660" y="315.4">27927.0</text>
<rect x="1655" y="345" width="2" height="1" shape-rendering="crispEdges"/>
<text x="1660" y="348.4">27813.0</text>
<rect x="1655" y="378" width="2" height="1" shape-rendering="crispEdges"/>
<text x="1660" y="381.4">27696.0</text>
<rect x="1655" y="411" width="2" height="1" shape-rendering="crispEdges"/>
<text x="1660" y="414.4">27582.0</text>
<rect x="1655" y="444" width="2" height="1" shape-rendering="crispEdges"/>
<text x="1660" y="447.4">27468.0</text>
<rect x="1655" y="477" width="2" height="1" shape-rendering="crispEdges"/>
<text x="1660" y="480.4">27351.0</text>
<rect x="1655" y="510" width="2" height="1" shape-rendering="crispEdges"/>
<text x="1660" y="513.4">27237.0</text>
<rect x="1655" y="543" width="2" height="1" shape-rendering="crispEdges"/>
<text x="1660" y="546.4">27120.0</text>
<rect x="1655" y="576" width="2" height="1" shape-rendering="crispEdges"/>
<text x="1660" y="579.5">27006.0</text>
<text x="1658" y="591.6">138.34</text>
<text x="1658" y="636.7">0.00</text>
<text x="1658" y="747.6">-318.36</text>
<text x="1658" y="763.8">100</text>
<text x="1658" y="792.6">80</text>
<text x="1658" y="843.5">50</text>
<text x="1658" y="904.3">15</text>
<text x="1658" y="923.7">0</text>
<rect x="1655" y="633" width="2" height="1" shape-rendering="crispEdges"/>
</g>
<rect x="1656" y="190" width="41" height="11" fill="#ff0000" shape-rendering="crispEdges"/><text x="1660" y="198.8" font-size="9" fill="#fff">28332.6</text>
<rect x="1656" y="206" width="41" height="11" fill="#ff0000" shape-rendering="crispEdges"/><text x="1660" y="214.8" font-size="9" fill="#fff">28276.8</text>
<rect x="1656" y="224" width="41" height="11" fill="#000000" shape-rendering="crispEdges"/><text x="1660" y="232.8" font-size="9" fill="#fff">28217.5</text>
<rect x="1656" y="232" width="41" height="11" fill="#32cd32" shape-rendering="crispEdges"/><text x="1660" y="240.8" font-size="9" fill="#fff">28186.2</text>
<rect x="1656" y="247" width="41" height="11" fill="#0000ff" shape-rendering="crispEdges"/><text x="1660" y="255.8" font-size="9" fill="#fff">28133.9</text>
<rect x="1656" y="261" width="41" height="11" fill="#0000ff" shape-rendering="crispEdges"/><text x="1660" y="269.8" font-size="9" fill="#fff">28085.0</text>
<rect x="1649.5" y="194.5" width="4" height="4" fill="#fff" stroke="#ff0000" stroke-width="1" shape-rendering="crispEdges"/>
<rect x="1649.5" y="210.5" width="4" height="4" fill="#fff" stroke="#ff0000" stroke-width="1" shape-rendering="crispEdges"/>
<rect x="1649.5" y="236.5" width="4" height="4" fill="#fff" stroke="#32cd32" stroke-width="1" shape-rendering="crispEdges"/>
<rect x="1649.5" y="251.5" width="4" height="4" fill="#fff" stroke="#0000ff" stroke-width="1" shape-rendering="crispEdges"/>
<rect x="1649.5" y="265.5" width="4" height="4" fill="#fff" stroke="#0000ff" stroke-width="1" shape-rendering="crispEdges"/>
<g font-size="9" fill="#000" stroke="#000" stroke-width=".22">
<text x="-5" y="940.3" font-size="9.3" word-spacing=".8">2 Jul 2021</text>
<rect x="60" y="928" width="1" height="3" shape-rendering="crispEdges"/>
<text x="59" y="940.3" font-size="9.3" word-spacing=".8">5 Jul 00:00</text>
<rect x="124" y="928" width="1" height="3" shape-rendering="crispEdges"/>
<text x="123" y="940.3" font-size="9.3" word-spacing=".8">6 Jul 10:55</text>
<rect x="188" y="928" width="1" height="3" shape-rendering="crispEdges"/>
<text x="187" y="940.3" font-size="9.3" word-spacing=".8">7 Jul 18:55</text>
<rect x="252" y="928" width="1" height="3" shape-rendering="crispEdges"/>
<text x="251" y="940.3" font-size="9.3" word-spacing=".8">9 Jul 00:00</text>
<rect x="316" y="928" width="1" height="3" shape-rendering="crispEdges"/>
<text x="315" y="940.3" font-size="9.3" word-spacing=".8">12 Jul 10:55</text>
<rect x="380" y="928" width="1" height="3" shape-rendering="crispEdges"/>
<text x="379" y="940.3" font-size="9.3" word-spacing=".8">13 Jul 18:55</text>
<rect x="444" y="928" width="1" height="3" shape-rendering="crispEdges"/>
<text x="443" y="940.3" font-size="9.3" word-spacing=".8">15 Jul 00:00</text>
<rect x="508" y="928" width="1" height="3" shape-rendering="crispEdges"/>
<text x="507" y="940.3" font-size="9.3" word-spacing=".8">16 Jul 10:55</text>
<rect x="572" y="928" width="1" height="3" shape-rendering="crispEdges"/>
<text x="571" y="940.3" font-size="9.3" word-spacing=".8">19 Jul 18:55</text>
<rect x="636" y="928" width="1" height="3" shape-rendering="crispEdges"/>
<text x="635" y="940.3" font-size="9.3" word-spacing=".8">21 Jul 00:00</text>
<rect x="700" y="928" width="1" height="3" shape-rendering="crispEdges"/>
<text x="699" y="940.3" font-size="9.3" word-spacing=".8">22 Jul 10:55</text>
<rect x="764" y="928" width="1" height="3" shape-rendering="crispEdges"/>
<text x="763" y="940.3" font-size="9.3" word-spacing=".8">23 Jul 18:55</text>
<rect x="828" y="928" width="1" height="3" shape-rendering="crispEdges"/>
<text x="827" y="940.3" font-size="9.3" word-spacing=".8">27 Jul 00:00</text>
<rect x="892" y="928" width="1" height="3" shape-rendering="crispEdges"/>
<text x="891" y="940.3" font-size="9.3" word-spacing=".8">28 Jul 10:55</text>
<rect x="956" y="928" width="1" height="3" shape-rendering="crispEdges"/>
<text x="955" y="940.3" font-size="9.3" word-spacing=".8">29 Jul 18:55</text>
<rect x="1020" y="928" width="1" height="3" shape-rendering="crispEdges"/>
<text x="1019" y="940.3" font-size="9.3" word-spacing=".8">2 Aug 00:00</text>
<rect x="1084" y="928" width="1" height="3" shape-rendering="crispEdges"/>
<text x="1083" y="940.3" font-size="9.3" word-spacing=".8">3 Aug 10:55</text>
<rect x="1148" y="928" width="1" height="3" shape-rendering="crispEdges"/>
<text x="1147" y="940.3" font-size="9.3" word-spacing=".8">4 Aug 18:55</text>
<rect x="1212" y="928" width="1" height="3" shape-rendering="crispEdges"/>
<text x="1211" y="940.3" font-size="9.3" word-spacing=".8">6 Aug 00:00</text>
<rect x="1276" y="928" width="1" height="3" shape-rendering="crispEdges"/>
<text x="1275" y="940.3" font-size="9.3" word-spacing=".8">9 Aug 10:55</text>
<rect x="1340" y="928" width="1" height="3" shape-rendering="crispEdges"/>
<text x="1339" y="940.3" font-size="9.3" word-spacing=".8">10 Aug 18:55</text>
</g>
<g font-size="9" fill="#000" stroke="#000" stroke-width=".22">
<text x="10.5" y="37.6" textLength="197" lengthAdjust="spacing" style="white-space:pre">JPN225-,H4  28192.5 28222.5 28187.5 28217.5</text>
<polygon points="0,37 3,32.5 6,37" fill="#000"/>
<text x="0.5" y="594" textLength="122.5" lengthAdjust="spacing">MACD(12,26,9) 117.58 82.75</text>
<text x="0.5" y="765.8" textLength="67.5" lengthAdjust="spacing">RSI(14) 73.4664</text>
</g>
<polygon points="1398.5,27 1408.5,27 1403.5,32.3" fill="#c0c0c0" shape-rendering="crispEdges"/>
</svg>
<div id="tb"><svg width="1701" height="24" viewBox="0 0 1701 24" style="position:absolute;left:0;top:0">
<defs><linearGradient id="gold" x1="0" y1="0" x2="1" y2="1"><stop offset="0" stop-color="#fff0a0"/><stop offset=".5" stop-color="#f0b820"/><stop offset="1" stop-color="#b07800"/></linearGradient><linearGradient id="blu" x1="0" y1="0" x2="0" y2="1"><stop offset="0" stop-color="#8cc4f4"/><stop offset="1" stop-color="#2868c8"/></linearGradient><linearGradient id="grn" x1="0" y1="0" x2="0" y2="1"><stop offset="0" stop-color="#58e058"/><stop offset="1" stop-color="#109010"/></linearGradient><radialGradient id="lens" cx=".4" cy=".35" r=".7"><stop offset="0" stop-color="#ffffff"/><stop offset="1" stop-color="#a8d4f8"/></radialGradient><radialGradient id="badge" cx=".4" cy=".3" r=".8"><stop offset="0" stop-color="#f06048"/><stop offset="1" stop-color="#d02818"/></radialGradient></defs>
<rect x="-3" y="2.5" width="4.5" height="9" fill="#fff" stroke="#909090" stroke-width=".8"/><line x1="3.2" y1="15" x2="7" y2="18.3" stroke="#c89818" stroke-width="2.4" stroke-linecap="round"/><circle cx="-.5" cy="11" r="4.2" fill="#d8ecfc" fill-opacity=".85" stroke="#6898d0" stroke-width="1.1"/>
<rect x="15" y="0" width="1" height="20" fill="#909090" shape-rendering="crispEdges"/>
<path d="M16.5,3.5 l1.5,1.5 l-1.5,1.5" fill="none" stroke="#000" stroke-width=".8"/>
<path d="M26.0,2.5 h7 l3,3 v10 h-10 z" fill="#fff" stroke="#707070" stroke-width="1"/><path d="M33.0,2.5 v3 h3" fill="none" stroke="#707070"/>
<path d="M28,6.5h4M28,8.5h5M28,10.5h3" stroke="#909090" stroke-width=".8"/>
<path transform="translate(29.3,8.6) scale(1.22)" d="M3,0 h3.4 v3 h3 v3.4 h-3 v3 h-3.4 v-3 h-3 v-3.4 h3 z" fill="url(#grn)" stroke="#087008" stroke-width=".7"/>
<text x="44" y="13.6" font-size="12" fill="#000">新订单</text>
<path d="M93,11 L100,3 L108,10 L101,18 Z" fill="url(#gold)" stroke="#a07010" stroke-width=".8"/><path d="M93,11 L101,18 L101.5,19.5 L92.5,12.5 Z" fill="#fff8e0" stroke="#a07010" stroke-width=".6"/>
<defs><linearGradient id="cld" x1="0" y1="0" x2="0" y2="1"><stop offset="0" stop-color="#ffffff"/><stop offset="1" stop-color="#c4cce0"/></linearGradient><linearGradient id="yel" x1="0" y1="0" x2="1" y2="1"><stop offset="0" stop-color="#fff080"/><stop offset="1" stop-color="#e0a010"/></linearGradient><linearGradient id="rgr" x1="0" y1="0" x2="1" y2="1"><stop offset="0" stop-color="#d8e8d8" stop-opacity=".5"/><stop offset="1" stop-color="#58a058" stop-opacity=".95"/></linearGradient></defs>
<path d="M122.3,3.4 L125.6,4.4 L125.6,11 L122.3,10 Z" fill="#1080f0"/><path d="M122.3,3.4 L129.4,1.9 L132.9,3 L125.6,4.4 Z" fill="#58b4ff"/><rect x="125.6" y="4.4" width="7.3" height="6.6" fill="#2c98fc"/><path d="M127,6.6 l4.6,-.7 M127,8.4 h4.6" stroke="#e8f4ff" stroke-width=".9"/><path d="M122.6,17.6 a2.7,2.7 0 0 1 -.3,-5.3 a3.4,3.4 0 0 1 6.2,-1.5 a3,3 0 0 1 4.6,1.6 a2.6,2.6 0 0 1 .2,5.2 z" fill="url(#cld)" stroke="#4860a0" stroke-width=".9"/>
<path d="M156,9.4 L156,1.6 A7.8,7.8 0 0 1 156,17.2 Z" fill="url(#rgr)"/><g fill="none" stroke-width="1"><circle cx="156" cy="9.4" r="7.6" stroke="#6888d8" stroke-opacity=".75"/><circle cx="156" cy="9.4" r="5.2" stroke="#5078d0" stroke-opacity=".7"/><circle cx="156" cy="9.4" r="2.9" stroke="#4870d0" stroke-opacity=".7"/></g><circle cx="156" cy="9.4" r="1.7" fill="#2458c8"/><path d="M156.4,10 V17.7" stroke="#18a018" stroke-width="1.3"/>
<path d="M175.6,9.2 L190.8,8.4 L185,17.6 Q184,18.4 183,17.6 Z" fill="url(#yel)" stroke="#c89818" stroke-width=".6"/><ellipse cx="183.2" cy="7" rx="7.9" ry="2.6" fill="#4c9cdc" stroke="#2470b0" stroke-width=".7"/><path d="M179.2,6.6 Q179.4,2 183.3,2 Q187.2,2 187.4,6.6 Q183.3,8 179.2,6.6 Z" fill="#78b8ec" stroke="#2470b0" stroke-width=".6"/><circle cx="187.5" cy="13.6" r="4.1" fill="#dc2410" stroke="#b01808" stroke-width=".5"/><rect x="186" y="12.1" width="3" height="3" fill="#fff"/>
<text x="196.5" y="13.6" font-size="12" fill="#000">自动交易</text>
<rect x="251" y="0" width="1" height="22" fill="#b0b0b0" shape-rendering="crispEdges"/>
<rect x="252" y="0" width="1" height="22" fill="#fff"/>
<rect x="255" y="2" width="3" height="1" fill="#b8b8b8" shape-rendering="crispEdges"/>
<rect x="255" y="4" width="3" height="1" fill="#b8b8b8" shape-rendering="crispEdges"/>
<rect x="255" y="6" width="3" height="1" fill="#b8b8b8" shape-rendering="crispEdges"/>
<rect x="255" y="8" width="3" height="1" fill="#b8b8b8" shape-rendering="crispEdges"/>
<rect x="255" y="10" width="3" height="1" fill="#b8b8b8" shape-rendering="crispEdges"/>
<rect x="255" y="12" width="3" height="1" fill="#b8b8b8" shape-rendering="crispEdges"/>
<rect x="255" y="14" width="3" height="1" fill="#b8b8b8" shape-rendering="crispEdges"/>
<rect x="255" y="16" width="3" height="1" fill="#b8b8b8" shape-rendering="crispEdges"/>
<rect x="255" y="18" width="3" height="1" fill="#b8b8b8" shape-rendering="crispEdges"/>
<g stroke="#404040" stroke-width="1" fill="none" shape-rendering="crispEdges"><line x1="270.5" y1="5" x2="270.5" y2="18"/><line x1="267" y1="15.5" x2="281" y2="15.5"/></g><path d="M268.5,7.5 L270.5,4.5 L272.5,7.5 M279,13.5 L281.5,15.5 L279,17.5" fill="none" stroke="#404040" stroke-width="1"/>
<path d="M274.5,13 h2 v-7 h2.5" fill="none" stroke="#109020" stroke-width="1.6"/>
<rect x="289" y="1" width="1" height="19" fill="#a0a0a0" shape-rendering="crispEdges"/>
<rect x="290" y="1" width="24" height="20" fill="#f8f8f8" shape-rendering="crispEdges"/>
<g stroke="#404040" stroke-width="1" fill="none" shape-rendering="crispEdges"><line x1="298.0" y1="5" x2="298.0" y2="18"/><line x1="294.5" y1="15.5" x2="308.5" y2="15.5"/></g><path d="M296.0,7.5 L298.0,4.5 L300.0,7.5 M306.5,13.5 L309.0,15.5 L306.5,17.5" fill="none" stroke="#404040" stroke-width="1"/>
<line x1="303" y1="2.5" x2="303" y2="14" stroke="#087018" stroke-width="1.2"/><rect x="301" y="5" width="4" height="7" fill="#30d040" stroke="#087018" stroke-width=".8"/>
<g stroke="#404040" stroke-width="1" fill="none" shape-rendering="crispEdges"><line x1="326.5" y1="5" x2="326.5" y2="18"/><line x1="323" y1="15.5" x2="337" y2="15.5"/></g><path d="M324.5,7.5 L326.5,4.5 L328.5,7.5 M335,13.5 L337.5,15.5 L335,17.5" fill="none" stroke="#404040" stroke-width="1"/>
<path d="M324.5,13 q5,-12 12,-2" fill="none" stroke="#109020" stroke-width="1.3"/>
<rect x="346" y="1" width="1" height="19" fill="#a0a0a0" shape-rendering="crispEdges"/>
<line x1="364.5" y1="11.5" x2="370" y2="17" stroke="#c89818" stroke-width="3" stroke-linecap="round"/><circle cx="361" cy="8" r="5.2" fill="url(#lens)" stroke="#3878c8" stroke-width="1.4"/>
<path d="M358,8 h6 M361,5 v6" stroke="#2060c0" stroke-width="1.6"/>
<line x1="392.5" y1="11.5" x2="398" y2="17" stroke="#c89818" stroke-width="3" stroke-linecap="round"/><circle cx="389" cy="8" r="5.2" fill="url(#lens)" stroke="#3878c8" stroke-width="1.4"/>
<path d="M386,8 h6" stroke="#2060c0" stroke-width="1.6"/>
<rect x="411.5" y="2.5" width="7.5" height="7.5" fill="#38a028"/><rect x="412.7" y="5.0" width="5" height="3.5" fill="#fff" opacity=".9"/><rect x="413.7" y="7.1" width="3" height="1.4" fill="#38a028" opacity=".6"/>
<rect x="419.5" y="2.5" width="7.5" height="7.5" fill="#2860d0"/><rect x="420.7" y="5.0" width="5" height="3.5" fill="#fff" opacity=".9"/><rect x="421.7" y="7.1" width="3" height="1.4" fill="#2860d0" opacity=".6"/>
<rect x="411.5" y="10.5" width="7.5" height="7.5" fill="#2860d0"/><rect x="412.7" y="13.0" width="5" height="3.5" fill="#fff" opacity=".9"/><rect x="413.7" y="15.1" width="3" height="1.4" fill="#2860d0" opacity=".6"/>
<rect x="419.5" y="10.5" width="7.5" height="7.5" fill="#38a028"/><rect x="420.7" y="13.0" width="5" height="3.5" fill="#fff" opacity=".9"/><rect x="421.7" y="15.1" width="3" height="1.4" fill="#38a028" opacity=".6"/>
<rect x="436" y="1" width="1" height="19" fill="#a0a0a0" shape-rendering="crispEdges"/>
<rect x="441" y="1" width="1" height="19" fill="#a0a0a0" shape-rendering="crispEdges"/>
<rect x="442" y="1" width="24" height="20" fill="#f8f8f8" shape-rendering="crispEdges"/>
<g stroke="#404040" stroke-width="1" fill="none" shape-rendering="crispEdges"><line x1="451.0" y1="5" x2="451.0" y2="18"/><line x1="447.5" y1="15.5" x2="461.5" y2="15.5"/></g><path d="M449.0,7.5 L451.0,4.5 L453.0,7.5 M459.5,13.5 L462.0,15.5 L459.5,17.5" fill="none" stroke="#404040" stroke-width="1"/>
<polygon points="454.5,6 454.5,13 458.5,9.5" fill="#20b030" stroke="#108020" stroke-width=".5"/>
<rect x="469" y="1" width="1" height="19" fill="#a0a0a0" shape-rendering="crispEdges"/>
<g stroke="#404040" stroke-width="1" fill="none" shape-rendering="crispEdges"><line x1="478.5" y1="5" x2="478.5" y2="18"/><line x1="475" y1="15.5" x2="489" y2="15.5"/></g><path d="M476.5,7.5 L478.5,4.5 L480.5,7.5 M487,13.5 L489.5,15.5 L487,17.5" fill="none" stroke="#404040" stroke-width="1"/>
<line x1="483.5" y1="4" x2="483.5" y2="14" stroke="#2060a0" stroke-width="1"/><path d="M489,9.5 h-4 m2,-2 l-2,2 l2,2" fill="none" stroke="#d03010" stroke-width="1.1"/>
<rect x="498" y="1" width="1" height="19" fill="#a0a0a0" shape-rendering="crispEdges"/>
<path d="M509.5,2.5 h7 l3,3 v10 h-10 z" fill="#fff" stroke="#707070" stroke-width="1"/><path d="M516.5,2.5 v3 h3" fill="none" stroke="#707070"/>
<path d="M512,6 v6 m-1.5,-4 h3" stroke="#707070" stroke-width=".8" fill="none"/>
<path transform="translate(512.6,8.8) scale(1.2)" d="M3,0 h3.4 v3 h3 v3.4 h-3 v3 h-3.4 v-3 h-3 v-3.4 h3 z" fill="url(#grn)" stroke="#087008" stroke-width=".7"/>
<polygon points="530,9 535,9 532.5,12" fill="#000"/>
<circle cx="553.8" cy="10" r="7.6" fill="url(#blu)" stroke="#1850a8" stroke-width="1"/><circle cx="553.8" cy="10" r="5.4" fill="#f4f8ff"/><path d="M553.8,6 v4.2 h3" fill="none" stroke="#303030" stroke-width="1"/>
<polygon points="569,9 574,9 571.5,12" fill="#000"/>
<rect x="585.5" y="3.5" width="15" height="12.5" fill="#f8fbff" stroke="#3070c0" stroke-width="1"/><rect x="585" y="3" width="16" height="2.2" fill="#3878d0"/><path d="M587.5,9 l3,-1 l2.5,.8 l3,-1.6 l2.5,-.4" fill="none" stroke="#b02810" stroke-width="1.1"/><path d="M587.5,14 l3,-1.4 l2.5,1 l2.5,-2 l3,1.4" fill="none" stroke="#20a030" stroke-width="1.1"/>
<polygon points="608,9 613,9 610.5,12" fill="#000"/>
<rect x="619" y="0" width="1" height="22" fill="#b0b0b0" shape-rendering="crispEdges"/>
<rect x="620" y="0" width="1" height="22" fill="#fff"/>
<rect x="623" y="2" width="3" height="1" fill="#b8b8b8" shape-rendering="crispEdges"/>
<rect x="623" y="4" width="3" height="1" fill="#b8b8b8" shape-rendering="crispEdges"/>
<rect x="623" y="6" width="3" height="1" fill="#b8b8b8" shape-rendering="crispEdges"/>
<rect x="623" y="8" width="3" height="1" fill="#b8b8b8" shape-rendering="crispEdges"/>
<rect x="623" y="10" width="3" height="1" fill="#b8b8b8" shape-rendering="crispEdges"/>
<rect x="623" y="12" width="3" height="1" fill="#b8b8b8" shape-rendering="crispEdges"/>
<rect x="623" y="14" width="3" height="1" fill="#b8b8b8" shape-rendering="crispEdges"/>
<rect x="623" y="16" width="3" height="1" fill="#b8b8b8" shape-rendering="crispEdges"/>
<rect x="623" y="18" width="3" height="1" fill="#b8b8b8" shape-rendering="crispEdges"/>
<rect x="629" y="1" width="1" height="19" fill="#a0a0a0" shape-rendering="crispEdges"/>
<rect x="630" y="1" width="24" height="20" fill="#f8f8f8" shape-rendering="crispEdges"/>
<path d="M637.5,3 v12 l2.8,-2.6 l2.2,4.6 l1.8,-.9 l-2.2,-4.4 h3.8 z" fill="#404040"/>
<path d="M669.5,3 v14 M662,10.5 h15" stroke="#404040" stroke-width="1" shape-rendering="crispEdges"/><rect x="668" y="9" width="3" height="3" fill="#f0f0f0"/><rect x="669" y="10" width="1" height="1" fill="#404040"/>
<rect x="686" y="1" width="1" height="19" fill="#a0a0a0" shape-rendering="crispEdges"/>
<rect x="703" y="4" width="1" height="13" fill="#404040" shape-rendering="crispEdges"/>
<rect x="726" y="10" width="12" height="1" fill="#404040" shape-rendering="crispEdges"/>
<line x1="754" y1="16.5" x2="766" y2="5" stroke="#404040" stroke-width="1.1"/>
<g stroke="#404040" stroke-width="1" fill="none"><line x1="780" y1="13" x2="792" y2="4"/><line x1="782" y1="17" x2="794" y2="8"/><line x1="783" y1="9" x2="785" y2="16"/><line x1="786" y1="7" x2="788" y2="14"/><line x1="789" y1="5" x2="791" y2="12"/></g><text x="790.5" y="19" font-size="6.5" font-weight="bold" fill="#404040">E</text>
<g stroke="#404040" stroke-width="1" stroke-dasharray="1,1" shape-rendering="crispEdges"><line x1="809" y1="3.5" x2="822" y2="3.5"/><line x1="809" y1="7.5" x2="822" y2="7.5"/><line x1="809" y1="10.5" x2="822" y2="10.5"/><line x1="809" y1="14.5" x2="818" y2="14.5"/></g><text x="818.5" y="19" font-size="6.5" font-weight="bold" fill="#404040">F</text>
<text x="839.3" y="15" font-size="12.5" font-weight="bold" fill="#585858">A</text>
<rect x="866" y="4.5" width="12" height="12" fill="none" stroke="#404040" stroke-width="1" stroke-dasharray="1,1" shape-rendering="crispEdges"/><text x="867.6" y="15" font-size="12" font-weight="bold" fill="#505050">T</text>
<path d="M896.5,4 l3,3.5 h-6 z M904,17 l-3,-3.5 h6 z" fill="#404040"/><path d="M895,9.5 l2.2,2.6 l4,-4.6 M899.5,12 l2,-2.4" fill="none" stroke="#404040" stroke-width="1.4"/>
<polygon points="914,9 919,9 916.5,12" fill="#000"/>
<rect x="925" y="0" width="1" height="22" fill="#b0b0b0" shape-rendering="crispEdges"/>
<rect x="926" y="0" width="1" height="22" fill="#fff"/>
<rect x="929" y="2" width="3" height="1" fill="#b8b8b8" shape-rendering="crispEdges"/>
<rect x="929" y="4" width="3" height="1" fill="#b8b8b8" shape-rendering="crispEdges"/>
<rect x="929" y="6" width="3" height="1" fill="#b8b8b8" shape-rendering="crispEdges"/>
<rect x="929" y="8" width="3" height="1" fill="#b8b8b8" shape-rendering="crispEdges"/>
<rect x="929" y="10" width="3" height="1" fill="#b8b8b8" shape-rendering="crispEdges"/>
<rect x="929" y="12" width="3" height="1" fill="#b8b8b8" shape-rendering="crispEdges"/>
<rect x="929" y="14" width="3" height="1" fill="#b8b8b8" shape-rendering="crispEdges"/>
<rect x="929" y="16" width="3" height="1" fill="#b8b8b8" shape-rendering="crispEdges"/>
<rect x="929" y="18" width="3" height="1" fill="#b8b8b8" shape-rendering="crispEdges"/>
<rect x="1076" y="1" width="24" height="20" fill="#f8f8f8" shape-rendering="crispEdges"/>
<rect x="1075" y="1" width="1" height="19" fill="#a0a0a0" shape-rendering="crispEdges"/>
<text x="940" y="14" font-size="9.5" fill="#444">M1</text>
<text x="968.3" y="14" font-size="9.5" fill="#444">M5</text>
<text x="994" y="14" font-size="9.5" fill="#444">M15</text>
<text x="1022.2" y="14" font-size="9.5" fill="#444">M30</text>
<text x="1053" y="14" font-size="9.5" fill="#444">H1</text>
<text x="1080" y="14" font-size="9.5" fill="#444">H4</text>
<text x="1109" y="14" font-size="9.5" fill="#444">D1</text>
<text x="1137" y="14" font-size="9.5" fill="#444">W1</text>
<text x="1163" y="14" font-size="9.5" fill="#444">MN</text>
<rect x="1186" y="1" width="1" height="19" fill="#a0a0a0" shape-rendering="crispEdges"/>
<line x1="1649.5" y1="14.5" x2="1653.5" y2="10.5" stroke="#2858c8" stroke-width="2.2" stroke-linecap="round"/><circle cx="1656.8" cy="7.2" r="3.6" fill="#f4f8ff" stroke="#2858c8" stroke-width="1.3"/>
<path d="M1674,12 a5,4.3 0 1 1 5,4.5 l-2.5,2 v-2.4 a5,4.3 0 0 1 -2.5,-4.1 z" fill="#e4e6ee" stroke="#b8bcc8" stroke-width=".8"/>
<circle cx="1687.6" cy="7.6" r="8.2" fill="url(#badge)"/><text x="1684.2" y="12" font-size="12.5" fill="#fff">1</text>
</svg></div><div id="tbline"></div><div id="redge"></div>
<div id="panel" style="position:absolute;left:0;top:46px;width:218px;height:57px;">
<div style="position:absolute;left:0;top:-2px;width:218px;height:2px;background:#fff"></div><div style="position:absolute;left:50px;top:-2px;width:117px;height:26px;background:#fff"></div>
<div style="position:absolute;left:107px;top:24px;width:4px;height:33px;background:#fff"></div>
<div class="rb" style="position:absolute;left:0;top:0;width:50px;height:24px;background:linear-gradient(#fa5858,#e43c3c);border-top:1px solid #c42424;border-right:1px solid #c83030;box-sizing:border-box"></div>
<div class="rb" style="position:absolute;left:167px;top:0;width:51px;height:24px;background:linear-gradient(#fa5858,#e43c3c);border-top:1px solid #c42424;border-left:1px solid #c83030;box-sizing:border-box"></div>
<div style="position:absolute;left:0;top:24px;width:108px;height:33px;background:linear-gradient(#e03838,#c41414 55%,#a40000);"></div>
<div style="position:absolute;left:110px;top:24px;width:108px;height:33px;background:linear-gradient(#e03838,#c41414 55%,#a40000);"></div>
<div style="position:absolute;left:3px;top:23px;width:44px;height:1px;background:#a81414"></div><div style="position:absolute;left:3px;top:24px;width:44px;height:1px;background:#f08080"></div>
<div style="position:absolute;left:170px;top:23px;width:44px;height:1px;background:#a81414"></div><div style="position:absolute;left:170px;top:24px;width:44px;height:1px;background:#f08080"></div>
<div style="position:absolute;left:10.6px;top:6.8px;font-size:12px;line-height:12px;color:#fff;transform:scaleX(.9);transform-origin:0 0">SELL</div>
<div style="position:absolute;left:179px;top:6.8px;font-size:12px;line-height:12px;color:#fff;transform:scaleX(.93);transform-origin:0 0">BUY</div>
<div style="position:absolute;left:53px;top:0;width:110px;height:21px;border:1px solid #a8a8a8;border-radius:2px;background:#fff;box-sizing:border-box"></div>
<div style="position:absolute;left:54px;top:1px;width:20px;height:19px;background:linear-gradient(#ececec,#d4d4d4);border:1px solid #b4b4b4;box-sizing:border-box"></div>
<div style="position:absolute;left:143px;top:1px;width:19px;height:19px;background:linear-gradient(#ececec,#d4d4d4);border:1px solid #b4b4b4;box-sizing:border-box"></div>
<div style="position:absolute;left:61.5px;top:9px;width:0;height:0;border-left:2.5px solid transparent;border-right:2.5px solid transparent;border-top:3px solid #4860c0"></div>
<div style="position:absolute;left:150px;top:8px;width:0;height:0;border-left:2.5px solid transparent;border-right:2.5px solid transparent;border-bottom:3px solid #4860c0"></div>
<div style="position:absolute;left:75px;top:3px;width:64px;text-align:right;font-size:12px;line-height:14px;color:#101020">1.00</div>
<div style="position:absolute;left:15px;top:42px;font-size:12px;font-weight:bold;line-height:14px;color:#fff;letter-spacing:0.5px">28216</div>
<div style="position:absolute;left:125.2px;top:42px;font-size:12px;font-weight:bold;line-height:14px;color:#fff;letter-spacing:0.5px">28239</div>
<div style="position:absolute;left:51.8px;top:23.4px;font-size:34px;font-weight:bold;line-height:36px;color:#fff">.</div>
<div style="position:absolute;left:163px;top:23.4px;font-size:34px;font-weight:bold;line-height:36px;color:#fff">.</div>
<div style="position:absolute;left:59.8px;top:23.2px;font-size:35px;line-height:36px;color:#fff;transform:scaleX(1.03);transform-origin:0 0">0</div>
<div style="position:absolute;left:170.7px;top:23.2px;font-size:35px;line-height:36px;color:#fff;transform:scaleX(1.03);transform-origin:0 0">0</div>
</div>
</body></html>
